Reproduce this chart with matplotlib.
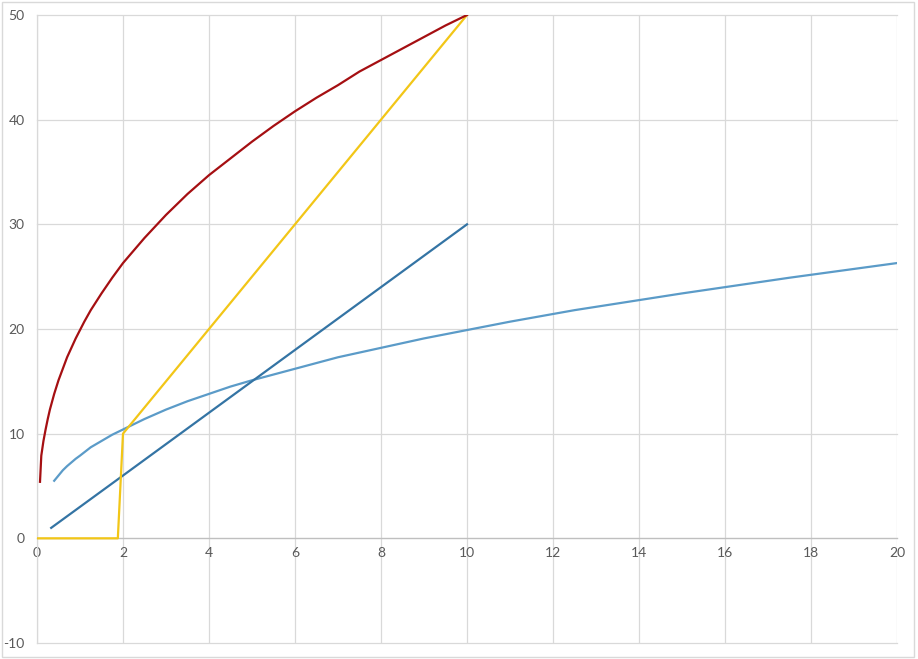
import matplotlib
matplotlib.use("Agg")
import matplotlib.pyplot as plt
from matplotlib.patches import Rectangle

plt.rcParams["font.family"] = ["Liberation Sans Narrow", "Lato", "DejaVu Sans"]
plt.rcParams["axes.unicode_minus"] = False

# --- data ---
red_x = [0.07, 0.1, 0.15, 0.2, 0.25, 0.3, 0.4, 0.5, 0.6, 0.7, 0.8, 0.9, 1.0, 1.1, 1.25, 1.5, 1.75,
         2, 2.5, 3, 3.5, 4, 4.5, 5, 5.5, 6, 6.5, 7, 7.5, 8, 8.5, 9, 9.5, 10]
red_y = [5.4, 7.9, 9.3, 10.4, 11.4, 12.3, 13.8, 15.1, 16.2, 17.3, 18.2, 19.1, 19.9, 20.7, 21.8, 23.4, 24.9,
         26.3, 28.7, 30.9, 32.9, 34.7, 36.3, 37.9, 39.4, 40.8, 42.1, 43.3, 44.6, 45.7, 46.8, 47.9, 49.0, 50]

yellow_x = [0, 1.88, 2.0, 10]
yellow_y = [0, 0, 10, 50]

blue_x = [0.33, 2, 4, 6, 8, 10]
blue_y = [1, 6, 12, 18, 24, 30]

light_x = [0.4, 0.5, 0.6, 0.7, 0.8, 0.9, 1, 1.25, 1.5, 1.75, 2, 2.5, 3, 3.5, 4, 4.5, 5, 6, 7, 8, 9,
           10, 11, 12.5, 15, 17.5, 20]
light_y = [5.5, 6.0, 6.5, 6.9, 7.25, 7.6, 7.9, 8.7, 9.3, 9.9, 10.4, 11.4, 12.3, 13.1, 13.8, 14.5, 15.1,
           16.2, 17.3, 18.2, 19.1, 19.9, 20.7, 21.8, 23.4, 24.9, 26.3]

x_ticks = list(range(0, 21, 2))
y_ticks = list(range(-10, 51, 10))

fig = plt.figure(figsize=(9.18, 6.59), dpi=100)
ax = fig.add_axes([0.0403, 0.0243, 0.9368, 0.9529])

grid_c = "#D9D9D9"
ax.plot(light_x, light_y, color="#5B9BC8", lw=1.6, zorder=3)
ax.plot(blue_x, blue_y, color="#3474A4", lw=1.6, zorder=3)
ax.plot(yellow_x, yellow_y, color="#F2C617", lw=1.6, zorder=3)
ax.plot(red_x, red_y, color="#A50F12", lw=1.6, zorder=3)

ax.set_xlim(0, 20)
ax.set_ylim(-10, 50)
ax.set_xticks(x_ticks)
ax.set_yticks(y_ticks)
ax.grid(True, color=grid_c, lw=0.9)
ax.set_axisbelow(True)
for g in ax.get_xgridlines() + ax.get_ygridlines():
    g.set_clip_on(False)

for s in ["top", "right"]:
    ax.spines[s].set_visible(False)
ax.spines["left"].set_color(grid_c)
ax.spines["left"].set_linewidth(0.9)
ax.spines["bottom"].set_position(("data", 0))
ax.spines["bottom"].set_color("#BFBFBF")
ax.spines["bottom"].set_linewidth(0.9)

ax.tick_params(length=0, labelsize=10, labelcolor="#595959")
ax.tick_params(axis="y", pad=9)
ax.tick_params(axis="x", pad=6)

fig.patches.append(Rectangle((0.002, 0.003), 0.994, 0.994, transform=fig.transFigure,
                             fill=False, edgecolor=grid_c, lw=1))

fig.savefig("out.png", dpi=100)
